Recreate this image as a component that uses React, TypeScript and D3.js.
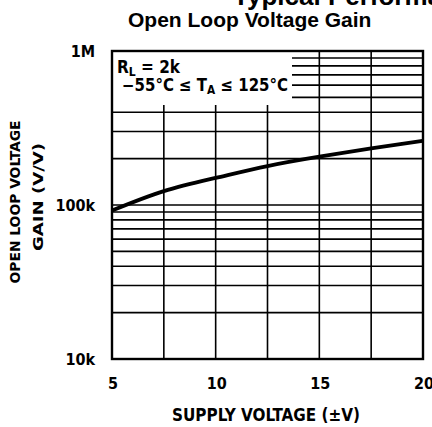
import React, { useRef, useEffect } from 'react';
import * as d3 from 'd3';

// values
const supplyVoltage = [5, 7.5, 10, 12.5, 15, 17.5, 20];
const gain = [92000, 123000, 150000, 179000, 206000, 233000, 261000];
const xTicks = [5, 10, 15, 20];
const xGrid = [7.5, 10, 12.5, 15, 17.5];
const yTickLabels = [
  { v: 1e6, label: '1M' },
  { v: 1e5, label: '100k' },
  { v: 1e4, label: '10k' },
];

const COND = "'DejaVu Sans Condensed', 'Liberation Sans Narrow', sans-serif";
const SANS = "'Liberation Sans', Arial, sans-serif";

const App = () => {
  const svgRef = useRef<SVGSVGElement>(null);

  useEffect(() => {
    const svg = d3.select(svgRef.current);
    svg.selectAll('*').remove();

    const x = d3.scaleLinear().domain([5, 20]).range([112, 423]);
    const y = d3.scaleLog().domain([1e4, 1e6]).range([359, 51]);

    // titles (the page title is cut off by the top edge)
    svg.append('text')
      .attr('x', 233).attr('y', 5)
      .style('font-family', SANS).style('font-weight', 'bold').style('font-size', '26px')
      .text('Typical Performance Characteristics');
    svg.append('text')
      .attr('x', 128).attr('y', 27)
      .style('font-family', SANS).style('font-weight', 'bold').style('font-size', '21px')
      .text('Open Loop Voltage Gain');

    // grid
    const grid = svg.append('g').attr('stroke', '#000').attr('stroke-width', 1.6);
    const minor: number[] = [];
    [1e4, 1e5].forEach(dec => {
      for (let m = 1; m <= 9; m++) minor.push(dec * m);
    });
    minor.filter(v => v > 1e4).forEach(v => {
      grid.append('line')
        .attr('x1', x(5)).attr('x2', x(20))
        .attr('y1', y(v)).attr('y2', y(v));
    });
    xGrid.forEach(v => {
      grid.append('line')
        .attr('x1', x(v)).attr('x2', x(v))
        .attr('y1', y(1e4)).attr('y2', y(1e6));
    });

    // legend box blanks out the grid
    svg.append('rect')
      .attr('x', x(5)).attr('y', y(1e6))
      .attr('width', 292 - x(5)).attr('height', 105 - y(1e6))
      .attr('fill', '#fff');
    const leg = svg.append('text')
      .attr('x', 117).attr('y', 73)
      .style('font-family', COND).style('font-weight', 'bold').style('font-size', '17px');
    leg.append('tspan').text('R');
    leg.append('tspan').attr('dy', 3).style('font-size', '12px').text('L');
    leg.append('tspan').attr('dy', -3).text(' = 2k');
    const leg2 = svg.append('text')
      .attr('x', 122).attr('y', 91)
      .attr('textLength', 166).attr('lengthAdjust', 'spacingAndGlyphs')
      .style('font-family', COND).style('font-weight', 'bold').style('font-size', '17px');
    leg2.append('tspan').text('\u221255\u00b0C \u2264 T');
    leg2.append('tspan').attr('dy', 3).style('font-size', '12px').text('A');
    leg2.append('tspan').attr('dy', -3).text(' \u2264 125\u00b0C');

    // frame
    svg.append('rect')
      .attr('x', x(5)).attr('y', y(1e6))
      .attr('width', x(20) - x(5)).attr('height', y(1e4) - y(1e6))
      .attr('fill', 'none').attr('stroke', '#000').attr('stroke-width', 2.4);

    // curve
    const line = d3.line<number>()
      .x((d, i) => x(supplyVoltage[i]))
      .y(d => y(d))
      .curve(d3.curveNatural);
    svg.append('path')
      .datum(gain)
      .attr('d', line)
      .attr('fill', 'none').attr('stroke', '#000').attr('stroke-width', 3.8);

    // tick labels
    yTickLabels.forEach(t => {
      svg.append('text')
        .attr('x', 95).attr('y', y(t.v) + 6)
        .attr('text-anchor', 'end')
        .style('font-family', COND).style('font-weight', 'bold').style('font-size', '16px')
        .text(t.label);
    });
    xTicks.forEach(t => {
      svg.append('text')
        .attr('x', x(t) + 1).attr('y', 389)
        .attr('text-anchor', 'middle')
        .style('font-family', COND).style('font-weight', 'bold').style('font-size', '16px')
        .text(t);
    });

    // axis titles
    svg.append('text')
      .attr('x', 266).attr('y', 421)
      .attr('text-anchor', 'middle')
      .attr('textLength', 188).attr('lengthAdjust', 'spacingAndGlyphs')
      .style('font-family', COND).style('font-weight', 'bold').style('font-size', '17px')
      .text('SUPPLY VOLTAGE (\u00b1V)');
    svg.append('text')
      .attr('transform', 'translate(20,202) rotate(-90)')
      .attr('text-anchor', 'middle')
      .attr('textLength', 163).attr('lengthAdjust', 'spacingAndGlyphs')
      .style('font-family', COND).style('font-weight', 'bold').style('font-size', '14px')
      .text('OPEN LOOP VOLTAGE');
    svg.append('text')
      .attr('transform', 'translate(43,197) rotate(-90)')
      .attr('text-anchor', 'middle')
      .attr('textLength', 108).attr('lengthAdjust', 'spacingAndGlyphs')
      .style('font-family', COND).style('font-weight', 'bold').style('font-size', '14px')
      .text('GAIN (V/V)');
  }, []);

  return (
    <svg ref={svgRef} width={432} height={427}
      style={{ position: 'absolute', left: 0, top: 0, background: '#fff' }} />
  );
};

export default App;
